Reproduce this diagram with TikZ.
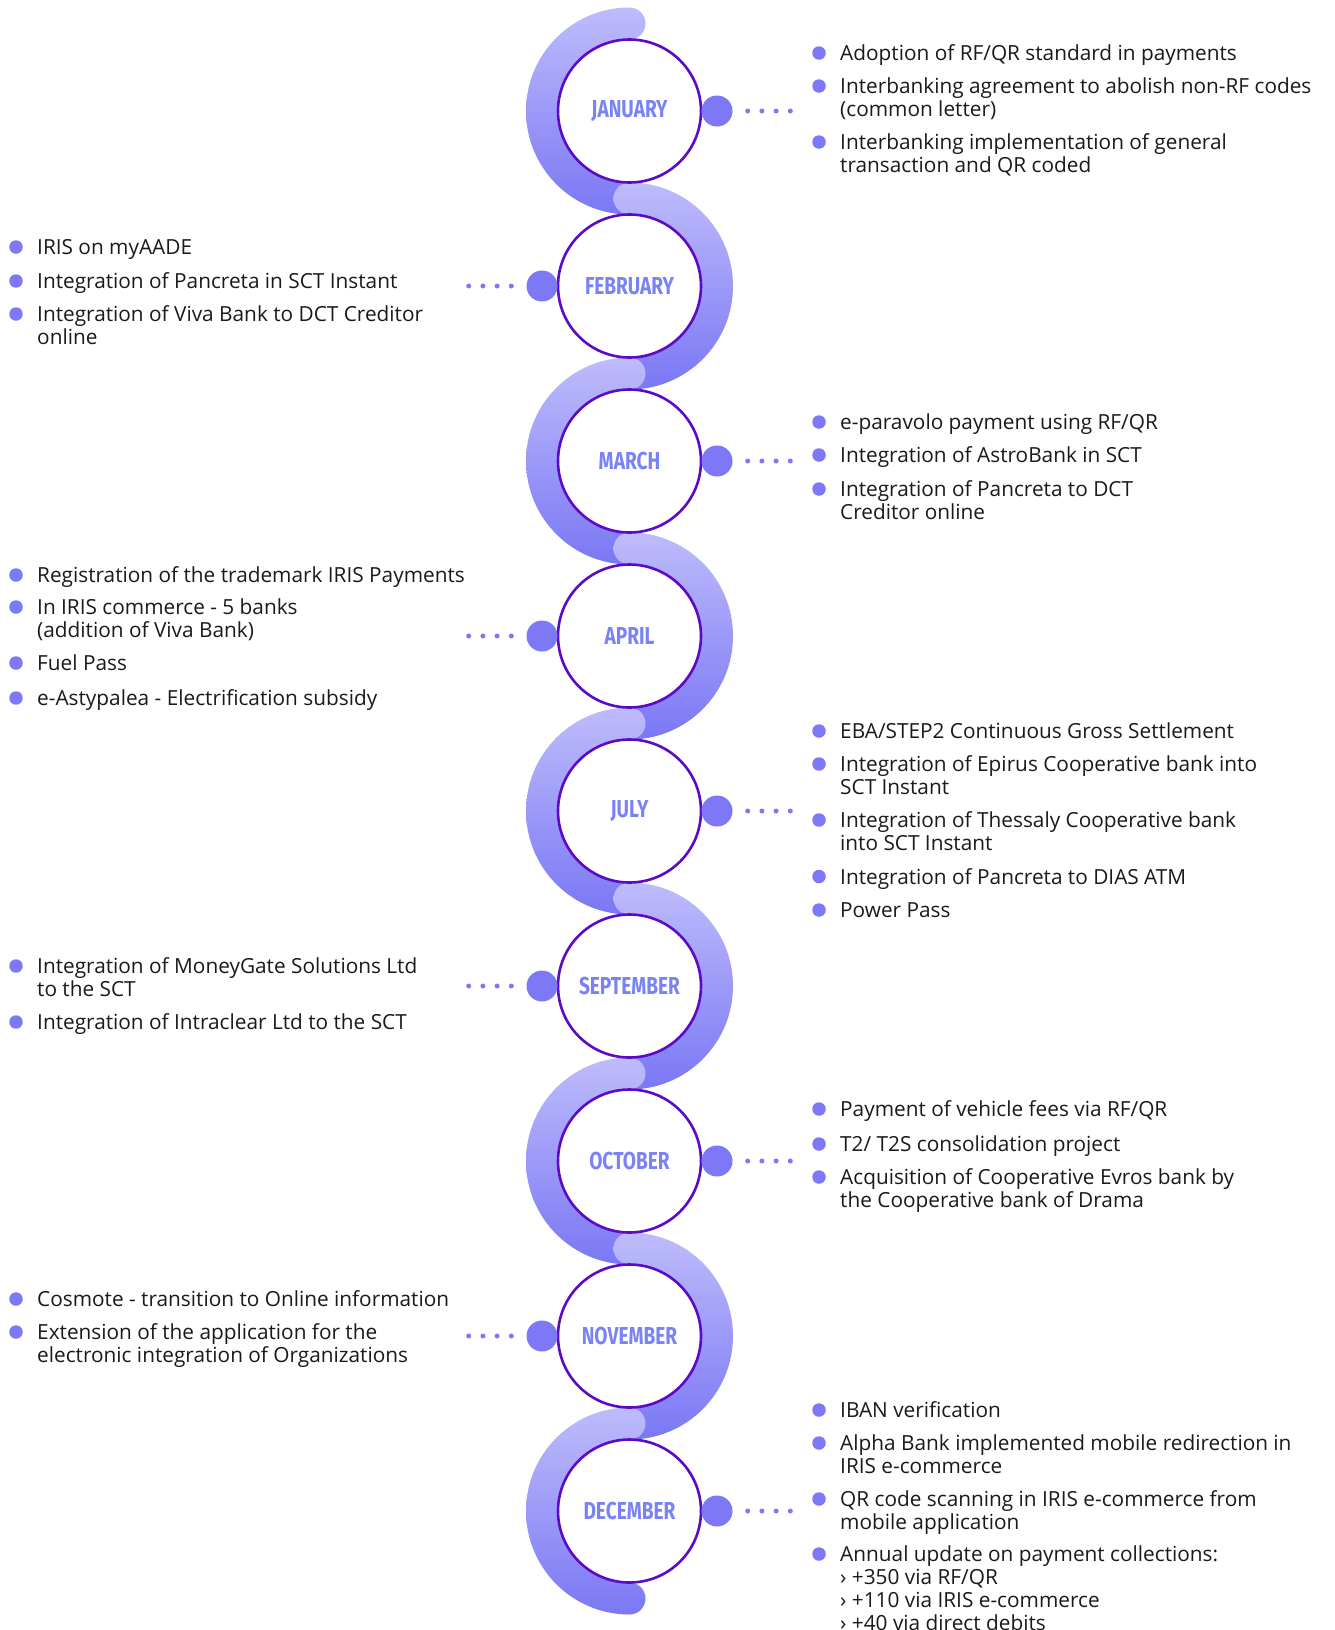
\documentclass[tikz,border=0pt]{standalone}
\usepackage{fontspec}
\setmainfont{Open Sans}
\newfontfamily\monthfont[FakeStretch=0.78]{Fira Sans}
\definecolor{bandlight}{RGB}{190,188,251}
\definecolor{banddark}{RGB}{122,119,245}
\definecolor{ringcol}{RGB}{92,10,200}
\definecolor{monthcol}{RGB}{122,131,246}
\definecolor{dotcol}{RGB}{125,121,246}
\definecolor{txtcol}{RGB}{26,26,26}
\tikzset{
  bandshade/.style={top color=bandlight, bottom color=banddark, draw=none},
  monthcircle/.style={circle, draw=ringcol, line width=2.6pt, fill=white, minimum size=143pt, inner sep=0pt,
     font=\monthfont\bfseries\fontsize{24.5}{26}\selectfont, text=monthcol},
  bigdot/.style={circle, fill=dotcol, minimum size=31pt, inner sep=0pt},
  smalldots/.style={draw=dotcol, line width=5pt, line cap=round, dash pattern=on 0pt off 14.2pt},
  itemtext/.style={anchor=base west, inner sep=0pt, text=txtcol,
     font=\fontsize{20.8}{22.9}\selectfont},
  bulletdot/.style={circle, fill=dotcol, minimum size=13.5pt, inner sep=0pt}
}
\newcommand\arcL[2]{%
  \shade[bandshade] (#1,#2) ++(270:103.5) arc[start angle=270,end angle=90,radius=103.5]
    arc[start angle=90,end angle=-90,radius=16]
    arc[start angle=90,end angle=270,radius=71.5]
    arc[start angle=90,end angle=-90,radius=16] -- cycle;}
\newcommand\arcR[2]{%
  \shade[bandshade] (#1,#2) ++(-90:103.5) arc[start angle=-90,end angle=90,radius=103.5]
    arc[start angle=90,end angle=270,radius=16]
    arc[start angle=90,end angle=-90,radius=71.5]
    arc[start angle=90,end angle=270,radius=16] -- cycle;}
% name, x, center-y of first line, text
\newcommand\bitem[4]{%
  \node[itemtext] (#1) at (#2,#3+7.5) {\begin{tabular}[t]{@{}l@{}}#4\end{tabular}};
  \node[bulletdot] (#1b) at ([shift={(-21,-7.5)}]#1.base west) {};}
\newcommand\monthR[3]{%
  \node[monthcircle] (#1) at (629.5,#3) {\raisebox{-2pt}{#2}};
  \node[bigdot] (#1d) at (717,#3) {};
  \draw[smalldots] ([xshift=15pt]#1d.east) -- ++(44,0);}
\newcommand\monthL[3]{%
  \node[monthcircle] (#1) at (629.5,#3) {\raisebox{-2pt}{#2}};
  \node[bigdot] (#1d) at (542,#3) {};
  \draw[smalldots] ([xshift=-15pt]#1d.west) -- ++(-44,0);}
\begin{document}
\begin{tikzpicture}[x=1pt,y=-1pt]
\fill[white] (0,0) rectangle (1334,1630);
\useasboundingbox (0,0) rectangle (1334,1630);
% bands
\arcL{629.5}{111}
\arcR{629.5}{286}
\arcL{629.5}{461}
\arcR{629.5}{636}
\arcL{629.5}{811}
\arcR{629.5}{986}
\arcL{629.5}{1161}
\arcR{629.5}{1336}
\arcL{629.5}{1511}
% months
\monthR{jan}{JANUARY}{111}
\monthL{feb}{FEBRUARY}{286}
\monthR{mar}{MARCH}{461}
\monthL{apr}{APRIL}{636}
\monthR{jul}{JULY}{811}
\monthL{sep}{SEPTEMBER}{986}
\monthR{oct}{OCTOBER}{1161}
\monthL{nov}{NOVEMBER}{1336}
\monthR{dec}{DECEMBER}{1511}
% January
\bitem{j1}{840}{53}{Adoption of RF/QR standard in payments}
\bitem{j2}{840}{86}{Interbanking agreement to abolish non-RF codes\\(common letter)}
\bitem{j3}{840}{142}{Interbanking implementation of general\\transaction and QR coded}
% February
\bitem{f1}{37}{247}{IRIS on myAADE}
\bitem{f2}{37}{281}{Integration of Pancreta in SCT Instant}
\bitem{f3}{37}{314}{Integration of Viva Bank to DCT Creditor\\online}
% March
\bitem{m1}{840}{422}{e-paravolo payment using RF/QR}
\bitem{m2}{840}{455}{Integration of AstroBank in SCT}
\bitem{m3}{840}{489}{Integration of Pancreta to DCT\\Creditor online}
% April
\bitem{a1}{37}{575}{Registration of the trademark IRIS Payments}
\bitem{a2}{37}{607}{In IRIS commerce - 5 banks\\(addition of Viva Bank)}
\bitem{a3}{37}{663}{Fuel Pass}
\bitem{a4}{37}{698}{e-Astypalea - Electrification subsidy}
% July
\bitem{u1}{840}{731}{EBA/STEP2 Continuous Gross Settlement}
\bitem{u2}{840}{764}{Integration of Epirus Cooperative bank into\\SCT Instant}
\bitem{u3}{840}{820}{Integration of Thessaly Cooperative bank\\into SCT Instant}
\bitem{u4}{840}{876.5}{Integration of Pancreta to DIAS ATM}
\bitem{u5}{840}{910}{Power Pass}
% September
\bitem{s1}{37}{966}{Integration of MoneyGate Solutions Ltd\\to the SCT}
\bitem{s2}{37}{1022}{Integration of Intraclear Ltd to the SCT}
% October
\bitem{o1}{840}{1109}{Payment of vehicle fees via RF/QR}
\bitem{o2}{840}{1144}{T2/ T2S consolidation project}
\bitem{o3}{840}{1177}{Acquisition of Cooperative Evros bank by\\the Cooperative bank of Drama}
% November
\bitem{n1}{37}{1299}{Cosmote - transition to Online information}
\bitem{n2}{37}{1332}{Extension of the application for the\\electronic integration of Organizations}
% December
\bitem{d1}{840}{1410}{IBAN verification}
\bitem{d2}{840}{1443}{Alpha Bank implemented mobile redirection in\\IRIS e-commerce}
\bitem{d3}{840}{1499}{QR code scanning in IRIS e-commerce from\\mobile application}
\bitem{d4}{840}{1554}{Annual update on payment collections:\\› +350 via RF/QR\\› +110 via IRIS e-commerce\\› +40 via direct debits}
\end{tikzpicture}
\end{document}
